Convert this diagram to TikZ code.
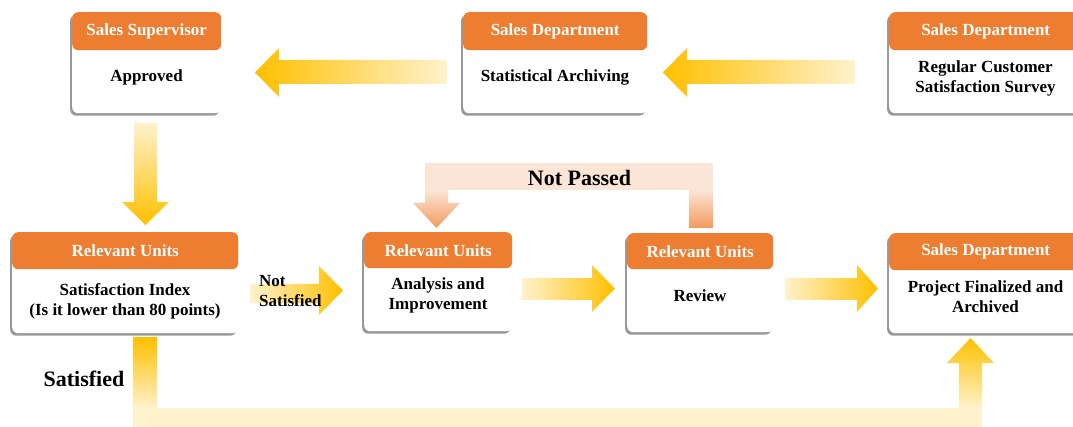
\documentclass[tikz,border=0pt]{standalone}
\usepackage{fontspec}
\setmainfont{Liberation Serif}
\usetikzlibrary{shadows,calc}
\definecolor{hdr}{HTML}{ED7D31}
\definecolor{gold}{HTML}{FFC000}
\definecolor{lite}{HTML}{FFF2CC}
\definecolor{peach}{HTML}{FBE5D6}
\definecolor{orng}{HTML}{F29A5C}
\tikzset{
 bodybox/.style={draw=none, fill=white, rounded corners=6pt, inner sep=0pt, anchor=north west,
   drop shadow={shadow xshift=-2pt, shadow yshift=-2.5pt, opacity=0.4, fill=black}},
 headbox/.style={fill=hdr, rounded corners=6pt, inner sep=0pt, anchor=north west, text=white,
   font=\fontsize{17}{20}\selectfont\bfseries},
 bodytext/.style={align=center, font=\fontsize{17}{20}\selectfont\bfseries, inner sep=0pt},
 bigtext/.style={font=\fontsize{22}{26}\selectfont\bfseries, inner sep=0pt},
 smalllabel/.style={align=left, font=\fontsize{17}{20}\selectfont\bfseries, inner sep=0pt},
}
\begin{document}
\begin{tikzpicture}[x=1pt,y=-1pt]
\useasboundingbox (0,0) rectangle (1073,427);

% ---------- boxes ----------
% Box 1
\node[bodybox, minimum width=149pt, minimum height=101pt] (b1) at (72,12) {};
\node[headbox, minimum width=149pt, minimum height=38pt] (h1) at (72,12) {Sales Supervisor};
\node[bodytext] (t1) at (146.5,77) {Approved};
% Box 2
\node[bodybox, minimum width=184pt, minimum height=101pt] (b2) at (463,12) {};
\node[headbox, minimum width=184pt, minimum height=38pt] (h2) at (463,12) {Sales Department};
\node[bodytext] (t2) at (555,77) {Statistical Archiving};
% Box 3
\node[bodybox, minimum width=193pt, minimum height=101pt] (b3) at (889,12) {};
\node[headbox, minimum width=193pt, minimum height=38pt] (h3) at (889,12) {Sales Department};
\node[bodytext] (t3) at (985.5,78) {Regular Customer\\Satisfaction Survey};
% Box 4
\node[bodybox, minimum width=226pt, minimum height=101pt] (b4) at (12,232) {};
\node[headbox, minimum width=226pt, minimum height=37pt] (h4) at (12,232) {Relevant Units};
\node[bodytext] (t4) at (125,301) {Satisfaction Index\\(Is it lower than 80 points)};
% Box 5
\node[bodybox, minimum width=148pt, minimum height=99pt] (b5) at (364,232) {};
\node[headbox, minimum width=148pt, minimum height=36pt] (h5) at (364,232) {Relevant Units};
\node[bodytext] (t5) at (438,295) {Analysis and\\Improvement};
% Box 6
\node[bodybox, minimum width=146pt, minimum height=99pt] (b6) at (627,233) {};
\node[headbox, minimum width=146pt, minimum height=36pt] (h6) at (627,233) {Relevant Units};
\node[bodytext] (t6) at (700,296) {Review};
% Box 7
\node[bodybox, minimum width=193pt, minimum height=100pt] (b7) at (889,233) {};
\node[headbox, minimum width=193pt, minimum height=37pt] (h7) at (889,233) {Sales Department};
\node[bodytext] (t7) at (985.5,297) {Project Finalized and\\Archived};

% ---------- block arrows ----------
% box2 -> box1
\shade[left color=gold, right color=lite]
  (447,60) -- (279,60) -- (279,48) -- (255,72.5) -- (279,97) -- (279,84) -- (447,84) -- cycle;
% box3 -> box2
\shade[left color=gold, right color=lite]
  (855,60) -- (687,60) -- (687,48) -- (663,72.5) -- (687,97) -- (687,84) -- (855,84) -- cycle;
% box1 -> box4
\shade[top color=lite, bottom color=gold]
  (134,123) -- (157,123) -- (157,202) -- (169,202) -- (145.5,225) -- (122,202) -- (134,202) -- cycle;
% box4 -> box5 (Not Satisfied)
\shade[left color=lite, right color=gold]
  (250,284) -- (319,284) -- (319,266) -- (343,290.5) -- (319,315) -- (319,303) -- (250,303) -- cycle;
% box5 -> box6
\shade[left color=lite, right color=gold]
  (522,278) -- (592,278) -- (592,265) -- (615,288.5) -- (592,312) -- (592,300) -- (522,300) -- cycle;
% box6 -> box7
\shade[left color=lite, right color=gold]
  (785,278) -- (857,278) -- (857,265) -- (878,288.5) -- (857,312) -- (857,300) -- (785,300) -- cycle;

% Not Passed loop (box6 -> box5)
\fill[peach] (425,163) rectangle (713,190);
\shade[top color=peach, bottom color=orng]
  (425,190) -- (448,190) -- (448,203) -- (460,203) -- (436.5,228) -- (413,203) -- (425,203) -- cycle;
\shade[top color=peach, bottom color=orng] (689,190) rectangle (713,228);

% Satisfied path (box4 -> box7)
\fill[lite] (133,408) rectangle (982,427);
\shade[top color=gold, bottom color=lite] (133,338) rectangle (157,408);
\shade[top color=gold, bottom color=lite]
  (959,408) -- (959,363) -- (947,363) -- (970.5,338) -- (994,363) -- (982,363) -- (982,408) -- cycle;

% ---------- labels ----------
\node[smalllabel, anchor=west] (lns) at (259,291) {Not\\Satisfied};
\node[bigtext] (lnp) at (579.5,178) {Not Passed};
\node[bigtext] (lsat) at (84,379) {Satisfied};
\end{tikzpicture}
\end{document}
